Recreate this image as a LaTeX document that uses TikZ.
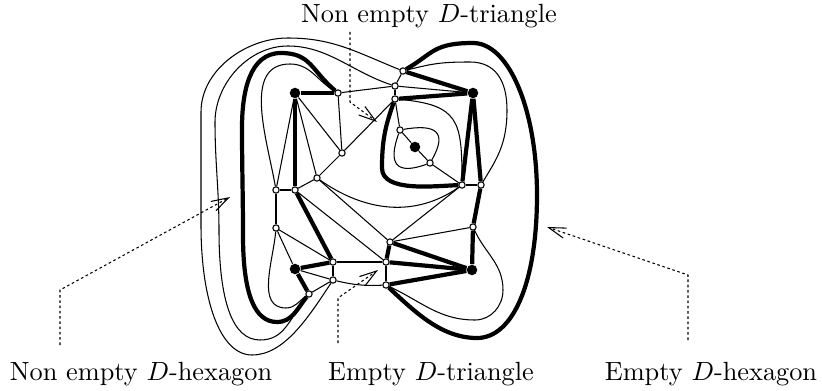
\documentclass[tikz,border=0pt]{standalone}
\usetikzlibrary{arrows.meta}

\begin{document}
\begin{tikzpicture}[x=0.38pt, y=0.38pt,
  hub/.style={circle, fill=black, inner sep=0pt, minimum size=4pt},
  site/.style={circle, draw, fill=white, inner sep=0pt, minimum size=2.4pt, line width=0.4pt},
  link/.style={line width=0.4pt},
  bold/.style={line width=1.6pt},
  pointer/.style={-{Straight Barb[length=6.5pt, width=4pt]}, line width=0.4pt, dash pattern=on 1pt off 1pt},
  tag/.style={anchor=base, inner sep=0pt}
]
  \useasboundingbox (0,0) rectangle (822,390);

  \node[hub] (A) at (295,297) {};
  \node[hub] (B) at (473,297) {};
  \node[hub] (C) at (415,243) {};
  \node[hub] (D) at (295,121) {};
  \node[hub] (E) at (472,120) {};

  \node[site] (w1) at (338,297) {};
  \node[site] (w2) at (403,319) {};
  \node[site] (w3) at (395,304) {};
  \node[site] (w4) at (395,291) {};
  \node[site] (w5) at (400,260) {};
  \node[site] (w6) at (430,227) {};
  \node[site] (w7) at (342,237) {};
  \node[site] (w8) at (317,212) {};
  \node[site] (w9) at (276,200) {};
  \node[site] (w10) at (295,200) {};
  \node[site] (w11) at (276,162) {};
  \node[site] (w12) at (462,205) {};
  \node[site] (w13) at (481,205) {};
  \node[site] (w14) at (473,163) {};
  \node[site] (w15) at (390,148) {};
  \node[site] (w16) at (333,128) {};
  \node[site] (w17) at (386,128) {};
  \node[site] (w18) at (333,110) {};
  \node[site] (w19) at (386,105) {};
  \node[site] (w20) at (309,96) {};

  \draw[link] (A) -- (w7);
  \draw[link] (A) -- (w8);
  \draw[link] (A) -- (w9);
  \draw[link] (w1) -- (w7);
  \draw[link] (w1) -- (w3);
  \draw[link] (w2) -- (w3);
  \draw[link] (w3) -- (w4);
  \draw[link] (w3) -- (B);
  \draw[link] (w4) -- (w5);
  \draw[link] (w7) -- (w8);
  \draw[link] (w7) -- (w4);
  \draw[link] (w8) -- (w10);
  \draw[link] (w9) -- (w10);
  \draw[link] (w9) -- (w11);
  \draw[link] (w10) -- (w17);
  \draw[link] (w8) -- (w15);
  \draw[link] (w11) -- (w16);
  \draw[link] (w11) -- (D);
  \draw[link] (w16) -- (w17);
  \draw[link] (w16) -- (w18);
  \draw[link] (w17) -- (w19);
  \draw[link] (w18) to[bend right=8] (w19);
  \draw[link] (D) -- (w18);
  \draw[link] (w18) -- (w20);
  \draw[link] (w15) -- (w12);
  \draw[link] (w15) -- (w14);
  \draw[link] (w12) -- (w13);
  \draw[link] (C) -- (w5);
  \draw[link] (C) -- (w6);
  \draw[link] (w6) -- (w12);

  \draw[bold] (A) -- (w1);
  \draw[bold] (A) -- (w10);
  \draw[bold] (w10) -- (w16);
  \draw[bold] (D) -- (w16);
  \draw[bold] (D) -- (w20);
  \draw[bold] (B) -- (w2);
  \draw[bold] (B) -- (w4);
  \draw[bold] (B) -- (w12);
  \draw[bold] (B) -- (w13);
  \draw[bold] (w13) -- (w14);
  \draw[bold] (w14) -- (E);
  \draw[bold] (w15) -- (w17);
  \draw[bold] (w15) -- (E);
  \draw[bold] (w17) -- (E);
  \draw[bold] (w19) -- (E);

  \draw[link] (w2) .. controls +(158:50) and +(45,0) .. (288,352)
    .. controls +(-42,0) and +(0,42) .. (201,278)
    .. controls +(0,-40) and +(0,40) .. (201,165)
    .. controls +(0,-75) and +(-32,0) .. (252,35)
    .. controls +(32,0) and +(-25,-38) .. (w18);
  \draw[link] (w3) .. controls +(162:45) and +(40,0) .. (288,344)
    .. controls +(-40,0) and +(0,38) .. (215,268)
    .. controls +(0,-40) and +(0,40) .. (219,160)
    .. controls +(0,-70) and +(-28,0) .. (260,50)
    .. controls +(25,0) and +(-20,-25) .. (w20);
  \draw[bold] (w1) .. controls +(140:35) and +(30,0) .. (281,337)
    .. controls +(-32,0) and +(0,35) .. (242,262)
    .. controls +(0,-40) and +(0,40) .. (243,155)
    .. controls +(0,-60) and +(-22,0) .. (277,68)
    .. controls +(15,0) and +(-12,-15) .. (w20);
  \draw[link] (w9) to[out=100, in=180] (290,326) to[out=0, in=150] (w1);
  \draw[link] (w11) to[out=-95, in=180] (286,82) to[out=0, in=215] (w20);

  \draw[bold] (w2) .. controls +(30:35) and +(-40,0) .. (473,347)
    .. controls +(36,0) and +(0,85) .. (537,195)
    .. controls +(0,-90) and +(35,0) .. (477,52)
    .. controls +(-35,0) and +(30,-28) .. (w19);
  \draw[link] (w2) .. controls +(14:30) and +(-30,0) .. (470,328)
    .. controls +(25,0) and +(0,30) .. (507,280)
    .. controls +(0,-35) and +(15,25) .. (w13);
  \draw[link] (w19) to[out=-25, in=180] (475,70) to[out=0, in=-90] (503,100)
    to[out=90, in=-65] (w14);

  \draw[link] (w4) to[out=-5, in=90, looseness=1.5] (w12);
  \draw[bold] (w4) to[out=-110, in=90] (382,222) to[out=-90, in=182, looseness=0.8] (w12);
  \draw[link] (w5) to[out=10, in=60, looseness=2] (w6);
  \draw[link] (w6) to[out=200, in=250, looseness=2] (w5);
  \draw[link] (w8) to[out=-35, in=-145] (w12);

  \node[tag] (lbl1) at (429,367) {Non empty $D$-triangle};
  \node[tag] (lbl2) at (141,10) {Non empty $D$-hexagon};
  \node[tag] (lbl3) at (431,10) {Empty $D$-triangle};
  \node[tag] (lbl4) at (711,10) {Empty $D$-hexagon};

  \coordinate (p1) at (350,358);
  \coordinate (q1) at (350,288);
  \coordinate (h1) at (377,268);
  \coordinate (p2) at (60,45);
  \coordinate (q2) at (60,100);
  \coordinate (h2) at (230,193);
  \coordinate (p3) at (338,47);
  \coordinate (q3) at (338,92);
  \coordinate (h3) at (378,120);
  \coordinate (p4) at (688,50);
  \coordinate (q4) at (688,115);
  \coordinate (h4) at (547,163);

  \draw[pointer] (p1) -- (q1) -- (h1);
  \draw[pointer] (p2) -- (q2) -- (h2);
  \draw[pointer] (p3) -- (q3) -- (h3);
  \draw[pointer] (p4) -- (q4) -- (h4);
\end{tikzpicture}
\end{document}
